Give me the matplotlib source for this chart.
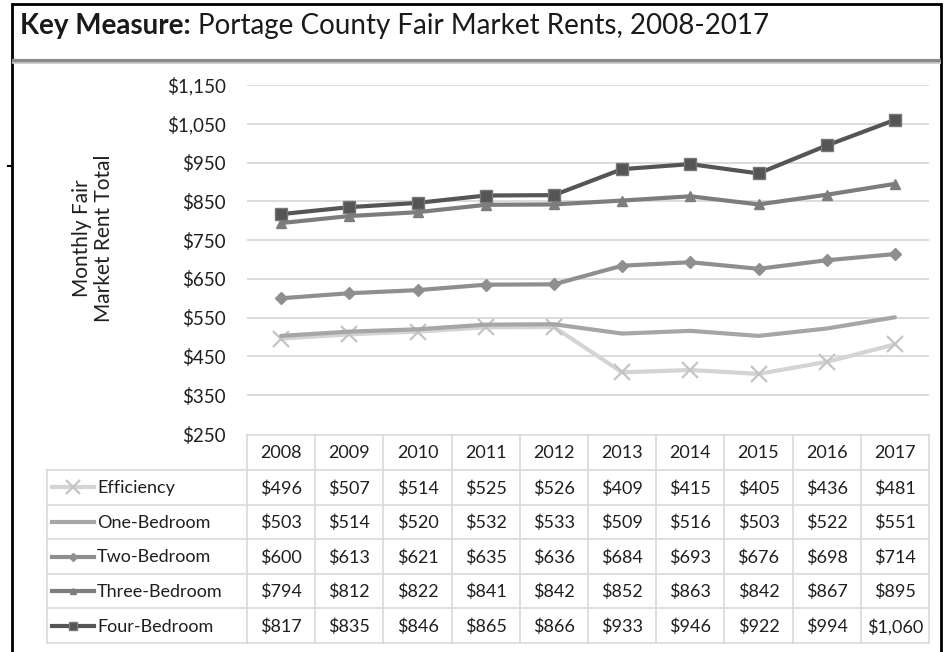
import matplotlib
matplotlib.use("Agg")
import matplotlib.pyplot as plt
from matplotlib.lines import Line2D

plt.rcParams['font.family'] = ['Lato', 'DejaVu Sans']

years = [2008, 2009, 2010, 2011, 2012, 2013, 2014, 2015, 2016, 2017]
series_names = ["Efficiency", "One-Bedroom", "Two-Bedroom", "Three-Bedroom", "Four-Bedroom"]
efficiency = [496, 507, 514, 525, 526, 409, 415, 405, 436, 481]
one_bedroom = [503, 514, 520, 532, 533, 509, 516, 503, 522, 551]
two_bedroom = [600, 613, 621, 635, 636, 684, 693, 676, 698, 714]
three_bedroom = [794, 812, 822, 841, 842, 852, 863, 842, 867, 895]
four_bedroom = [817, 835, 846, 865, 866, 933, 946, 922, 994, 1060]
y_ticks = [250, 350, 450, 550, 650, 750, 850, 950, 1050, 1150]

all_series = [efficiency, one_bedroom, two_bedroom, three_bedroom, four_bedroom]
styles = [
    dict(color="#d4d4d4", marker="x", ms=12, mew=1.6, mec="#c4c4c4", lw=3.0),
    dict(color="#a6a6a6", marker=None, lw=3.0),
    dict(color="#8f8f8f", marker="D", ms=6.5, mec="#8f8f8f", lw=3.0),
    dict(color="#7d7d7d", marker="^", ms=7, mec="#7d7d7d", lw=3.0),
    dict(color="#555555", marker="s", ms=9, mec="#777777", lw=3.0),
]

W, H = 946, 652
fig = plt.figure(figsize=(W / 100, H / 100), dpi=100)

# pixel-space overlay for frame, title and the data table
ov = fig.add_axes([0, 0, 1, 1], zorder=0)
ov.set_xlim(0, W)
ov.set_ylim(H, 0)
ov.axis("off")

# plot area
x_left, x_right = 247, 929
y_top, y_bot = 85, 434
ax = fig.add_axes([x_left / W, (H - y_bot) / H, (x_right - x_left) / W, (y_bot - y_top) / H], zorder=2)
ax.patch.set_alpha(0)
n = len(years)
ax.set_xlim(-0.5, n - 0.5)
ax.set_ylim(y_ticks[0], y_ticks[-1])
ax.set_yticks(y_ticks)
ax.set_yticklabels([f"${v:,}" for v in y_ticks], fontsize=13.5, color="#1f1f1f")
ax.tick_params(axis="y", length=0, pad=15)
ax.set_xticks([])
for s in ax.spines.values():
    s.set_visible(False)
for v in y_ticks[1:]:
    ax.axhline(v, color="#d9d9d9", lw=1.3, zorder=0)

for vals, st in zip(all_series, styles):
    ax.plot(range(n), vals, solid_capstyle="round", zorder=3, **st)

# y-axis title
fig.text(93 / W, 1 - 238 / H, "Monthly Fair\nMarket Rent Total", rotation=90,
         ha="center", va="center", fontsize=15, color="#1f1f1f", linespacing=1.1)

# frame
frame_kw = dict(color="black", lw=2.0, solid_capstyle="butt")
ov.plot([12, 12], [3, H], **frame_kw)
ov.plot([941, 941], [3, H], **frame_kw)
ov.plot([11, 942], [4, 4], **frame_kw)
ov.plot([8, 12], [166, 166], color="black", lw=1.5)
ov.plot([12, 941], [60.5, 60.5], color="#8a8a8a", lw=3.0, solid_capstyle="butt")
ov.plot([12, 941], [63, 63], color="#c8c8c8", lw=1.2, solid_capstyle="butt")

# title: bold lead-in followed by regular text
t1 = ov.text(20, 26, "Key Measure: ", fontsize=20, fontweight="bold", color="#1a1a1a",
             ha="left", va="center")
ov.annotate("Portage County Fair Market Rents, 2008-2017", xy=(1, 0.5), xycoords=t1,
            ha="left", va="center", fontsize=20, color="#1a1a1a")

# data table
col_w = (x_right - x_left) / n
hdr_top, hdr_bot = 435, 470
row_h = 34.6
leg_left = 47
grid_c = "#d9d9d9"
tbl_fs = 13
txt_c = "#1f1f1f"

rows_bot = hdr_bot + row_h * len(series_names)
ov.plot([x_left, x_right], [hdr_top, hdr_top], color=grid_c, lw=1.2)
for i in range(n + 1):
    xx = x_left + i * col_w
    ov.plot([xx, xx], [hdr_top, rows_bot], color=grid_c, lw=1.2)
ov.plot([leg_left, leg_left], [hdr_bot, rows_bot], color=grid_c, lw=1.2)
for r in range(len(series_names) + 1):
    yy = hdr_bot + r * row_h
    ov.plot([leg_left, x_right], [yy, yy], color=grid_c, lw=1.2)

for i, yr in enumerate(years):
    ov.text(x_left + (i + 0.5) * col_w, (hdr_top + hdr_bot) / 2 + 1, str(yr),
            ha="center", va="center", fontsize=tbl_fs, color=txt_c)

for r, (name, vals, st) in enumerate(zip(series_names, all_series, styles)):
    yc = hdr_bot + (r + 0.5) * row_h + 1
    # legend key: short line with the series marker in the middle
    ov.add_line(Line2D([52, 94], [yc - 1, yc - 1], color=st["color"], lw=3.0))
    if st.get("marker"):
        ms = st["ms"] * (0.85 if st["marker"] == "x" else 0.7)
        ov.add_line(Line2D([73], [yc - 1], marker=st["marker"], ms=ms,
                           color=st["color"], mec=st.get("mec"), mew=st.get("mew", 1.0),
                           markerfacecolor=st["color"], lw=0))
    ov.text(97, yc, name, ha="left", va="center", fontsize=tbl_fs, color=txt_c)
    for i, v in enumerate(vals):
        ov.text(x_left + (i + 0.5) * col_w, yc, f"${v:,}", ha="center", va="center",
                fontsize=tbl_fs, color=txt_c)

fig.savefig("out.png", dpi=100)
